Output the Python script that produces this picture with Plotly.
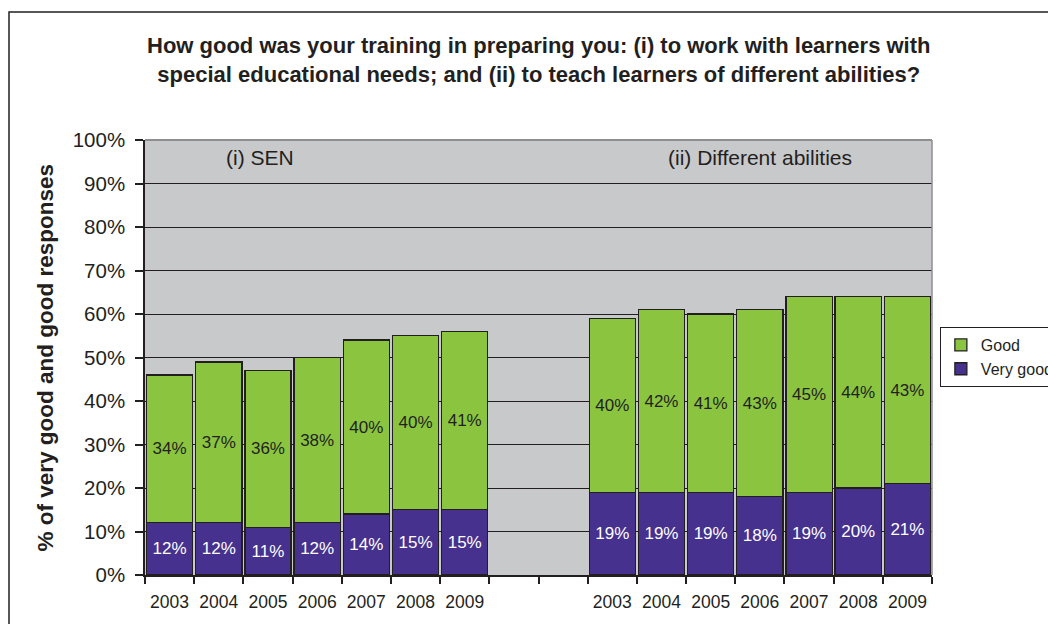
import plotly.graph_objects as go

# Survey years and responses (share of respondents)
years = ["2003", "2004", "2005", "2006", "2007", "2008", "2009"]
sen_very_good = [12, 12, 11, 12, 14, 15, 15]
sen_good = [34, 37, 36, 38, 40, 40, 41]
abil_very_good = [19, 19, 19, 18, 19, 20, 21]
abil_good = [40, 42, 41, 43, 45, 44, 43]
gap_slots = 2

GREEN = "#8BC540"
PURPLE = "#46318E"
PANEL = "#C8C9CB"
INK = "#231F20"
FONT = "Liberation Sans, Arial, sans-serif"

# Slot positions: SEN block, blank gap, different-abilities block
sen_x = list(range(len(years)))
abil_x = [len(years) + gap_slots + i for i in range(len(years))]
all_x = sen_x + abil_x
n_slots = len(years) * 2 + gap_slots

very_good = [v / 100 for v in sen_very_good + abil_very_good]
good = [v / 100 for v in sen_good + abil_good]

fig = go.Figure()
fig.add_trace(go.Bar(
    x=all_x, y=very_good, name="Very good",
    marker=dict(color=PURPLE, line=dict(color=INK, width=1.3)),
    text=[f"{round(v * 100)}%" for v in very_good],
    textposition="inside", insidetextanchor="middle",
    textfont=dict(color="white", size=17, family=FONT),
    width=0.94,
))
fig.add_trace(go.Bar(
    x=all_x, y=good, name="Good",
    marker=dict(color=GREEN, line=dict(color=INK, width=1.3)),
    text=[f"{round(v * 100)}%" for v in good],
    textposition="inside", insidetextanchor="middle",
    textfont=dict(color=INK, size=17, family=FONT),
    width=0.94,
))

fig.update_layout(
    width=1048, height=624,
    margin=dict(l=145, r=116, t=140, b=49, autoexpand=False),
    barmode="stack",
    plot_bgcolor=PANEL,
    paper_bgcolor="white",
    font=dict(family=FONT, color=INK),
    uniformtext=dict(mode="show", minsize=10),
    legend=dict(
        x=1.01, y=0.57, xanchor="left", yanchor="top",
        traceorder="reversed",
        bordercolor=INK, borderwidth=1, bgcolor="white",
        font=dict(size=16, family=FONT, color=INK),
        itemwidth=30, tracegroupgap=4,
    ),
    showlegend=True,
)

fig.update_xaxes(
    range=[-0.5, n_slots - 0.5],
    tickmode="array", tickvals=all_x, ticktext=years + years,
    ticks="", tickfont=dict(size=17.5, family=FONT, color=INK),
    showgrid=False, zeroline=False,
    showline=True, linecolor=INK, linewidth=1.5,
    minor=dict(tick0=0.5, dtick=1, ticks="outside", ticklen=7,
               tickcolor=INK, tickwidth=1.5, showgrid=False),
    ticklabelstandoff=10,
)
fig.update_yaxes(
    range=[0, 1], tickmode="linear", tick0=0, dtick=0.1,
    tickformat=".0%",
    ticks="outside", ticklen=8, tickcolor=INK, tickwidth=1.5,
    tickfont=dict(size=20.5, family=FONT, color=INK),
    ticklabelstandoff=6,
    showgrid=True, gridcolor=INK, gridwidth=1,
    zeroline=False,
    showline=True, linecolor=INK, linewidth=1.5,
)

# Grey frame along the top and right of the panel
fig.add_shape(type="line", xref="paper", yref="paper", x0=0, x1=1, y0=1, y1=1,
              line=dict(color="#8E8E90", width=2), layer="above")
fig.add_shape(type="line", xref="paper", yref="paper", x0=1, x1=1, y0=0, y1=1,
              line=dict(color="#8E8E90", width=1.5), layer="above")

# Outer chart border
fig.add_shape(type="rect", xref="paper", yref="paper",
              x0=-0.1728, x1=1.2, y0=-0.3, y1=1.294,
              line=dict(color=INK, width=1.5), fillcolor="rgba(0,0,0,0)")

fig.add_annotation(
    text="How good was your training in preparing you: (i) to work with learners with<br>"
         "special educational needs; and (ii) to teach learners of different abilities?",
    xref="paper", yref="paper", x=0.5, y=1.184,
    xanchor="center", yanchor="middle", showarrow=False,
    font=dict(size=22, family=FONT, color=INK, weight="bold"),
    align="center",
)
fig.add_annotation(
    text="% of very good and good responses",
    xref="paper", yref="paper", x=-0.127, y=0.5, textangle=-90,
    xanchor="center", yanchor="middle", showarrow=False,
    font=dict(size=22.5, family=FONT, color=INK, weight="bold"),
)
fig.add_annotation(
    text="(i) SEN", xref="paper", yref="paper", x=(260 - 145) / 787, y=0.959,
    xanchor="center", yanchor="middle", showarrow=False,
    font=dict(size=21, family=FONT, color=INK),
)
fig.add_annotation(
    text="(ii) Different abilities", xref="paper", yref="paper",
    x=(760 - 145) / 787, y=0.959,
    xanchor="center", yanchor="middle", showarrow=False,
    font=dict(size=21, family=FONT, color=INK),
)

fig.write_html("out.html")
